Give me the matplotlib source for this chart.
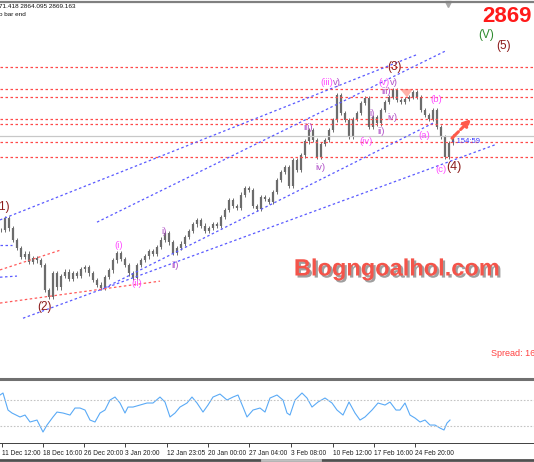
import matplotlib
matplotlib.use("Agg")
import matplotlib.pyplot as plt
import matplotlib.patheffects as pe
from matplotlib.lines import Line2D
import numpy as np

plt.rcParams['font.family'] = ['Liberation Sans', 'DejaVu Sans']

# closing prices, one per bar
closes = [2702, 2723, 2705, 2684, 2670, 2654, 2660, 2645, 2652, 2648,
          2640, 2595, 2583, 2625, 2600, 2620, 2628, 2615, 2625, 2620,
          2632, 2636, 2625, 2613, 2605, 2599, 2618, 2630, 2648, 2661,
          2650, 2640, 2625, 2617, 2640, 2649, 2655, 2665, 2660, 2672,
          2685, 2697, 2680, 2661, 2670, 2678, 2690, 2700, 2712, 2720,
          2710, 2700, 2706, 2712, 2710, 2725, 2738, 2755, 2745, 2741,
          2765, 2777, 2773, 2745, 2740, 2761, 2757, 2752, 2770, 2791,
          2805, 2814, 2780, 2827, 2809, 2835, 2860, 2880, 2862, 2832,
          2855, 2862, 2880, 2898, 2942, 2910, 2898, 2868, 2900, 2910,
          2928, 2937, 2885, 2903, 2892, 2916, 2930, 2939, 2951, 2933,
          2930, 2935, 2939, 2948, 2939, 2916, 2907, 2900, 2916, 2885,
          2868, 2832, 2857, 2869]

levels = [2992.7, 2952.5, 2939.3, 2899.1, 2890.2, 2858.2, 2831.5]
bid = 2869.163

# trend lines: (bar0, bar1), (price0, price1)
blue_lines = [((-0.25, 104.25), (2720, 3015)),
              ((24, 111.5), (2716, 3022)),
              ((24.75, 108.5), (2595, 2894)),
              ((5.5, 124), (2545, 2855)),
              ((-0.25, 2.75), (2675, 2675)),
              ((-0.25, 4), (2618, 2620))]
red_lines = [((-0.25, 14.75), (2631, 2666)),
             ((-0.25, 39.75), (2572, 2611))]

# wave labels: text, bar, price, colour, size, align
DR, MG, PU = '#8b1a1a', '#ff4dff', '#b050c8'
waves = [("(1)", 0.5, 2743, DR, 8.5, 'center'),
         ("(2)", 11, 2565, DR, 8.5, 'center'),
         ("(3)", 98.5, 2992, DR, 8.5, 'center'),
         ("(4)", 113.25, 2814, DR, 9, 'center'),
         ("(5)", 125.75, 3030, DR, 8.5, 'center'),
         ("(V)", 121.25, 3050, '#2e8b2e', 8.5, 'center'),
         ("(i)", 29.5, 2675, MG, 6.8, 'center'),
         ("(ii)", 34, 2606, MG, 6.8, 'center'),
         ("(iii)", 83, 2964, MG, 6.8, 'right'),
         ("(iv)", 91.25, 2859, MG, 6.8, 'center'),
         ("(v)", 97.25, 2965, MG, 6.8, 'right'),
         ("(a)", 105.75, 2871, MG, 6.8, 'center'),
         ("(b)", 108.75, 2935, MG, 6.8, 'center'),
         ("(c)", 110, 2809, MG, 6.8, 'center'),
         ("i)", 40.75, 2700, PU, 6.8, 'center'),
         ("ii)", 43.5, 2638, PU, 6.8, 'center'),
         ("iii)", 76.75, 2885, PU, 6.8, 'center'),
         ("iv)", 79.75, 2814, PU, 6.8, 'center'),
         ("v)", 83, 2964, PU, 6.8, 'left'),
         ("v)", 97.25, 2965, PU, 6.8, 'left'),
         ("i)", 92.75, 2910, PU, 6.8, 'center'),
         ("ii)", 95, 2878, PU, 6.8, 'center'),
         ("iii)", 96.25, 2948, PU, 6.8, 'center'),
         ("iv)", 97.75, 2903, PU, 6.8, 'center')]

# oscillator in the lower window
ind_bars = [-0.25, 0.5, 1.75, 2.75, 4.75, 6, 7.25, 9, 10.5, 11.5, 13, 14, 15.5,
            17.25, 18.5, 19.75, 21, 22.25, 23.5, 24.75, 26, 27.25, 28.5, 29.75,
            31, 31.75, 33, 34.75, 36.5, 38, 39.75, 41, 42.25, 43.5, 44.75, 46.5,
            47.75, 49, 50.5, 51.75, 53, 54.75, 56.5, 58, 59.25, 60.5, 61.5, 63,
            64.75, 66, 67.25, 69, 70.5, 71.5, 72.25, 73.5, 75.25, 76.5, 77.75,
            79.25, 81, 82.75, 84, 85.5, 87, 88.5, 89.75, 91, 92.75, 94.25, 96,
            97.25, 98.75, 99.75, 101, 102.25, 103.5, 104.75, 106, 107.25, 108.5,
            109.75, 110.75, 111.5, 112.25]
ind_vals = [77.7, 80.8, 54.6, 50.0, 43.9, 46.9, 36.2, 39.2, 20.8, 31.5, 43.9, 51.5,
            50.0, 46.9, 57.7, 57.7, 54.6, 39.2, 36.2, 50.0, 54.6, 70.0, 74.6, 65.4,
            50.0, 59.2, 59.2, 62.3, 65.4, 65.4, 74.6, 66.9, 43.9, 50.0, 59.2, 65.4,
            74.6, 65.4, 51.5, 62.3, 74.6, 79.2, 70.0, 74.6, 77.7, 59.2, 43.9, 54.6,
            57.7, 51.5, 73.1, 77.7, 70.0, 50.0, 46.9, 70.0, 80.8, 73.1, 59.2, 66.9,
            73.1, 65.4, 54.6, 46.9, 66.9, 50.0, 39.2, 43.9, 54.6, 65.4, 62.3, 66.9,
            54.6, 54.6, 65.4, 46.9, 42.3, 36.2, 39.2, 31.5, 31.5, 26.9, 23.9, 34.6,
            39.2]
ind_levels = [70, 30]

tick_labels = ["11 Dec 12:00", "18 Dec 16:00", "26 Dec 20:00", "3 Jan 20:00",
               "12 Jan 23:05", "20 Jan 00:00", "27 Jan 04:00", "3 Feb 08:00",
               "10 Feb 12:00", "17 Feb 16:00", "24 Feb 20:00"]
tick_bars = [0.25, 10.5, 20.75, 31, 41.5, 51.75, 62, 72.5, 83, 93.25, 103.5]

W, H = 534, 462
fig = plt.figure(figsize=(W / 100, H / 100), dpi=100)
ax = fig.add_axes([0, 84 / H, 1, 375 / H])
ax2 = fig.add_axes([0, 19 / H, 1, 63 / H])
xlim = (-0.25, 133.25)

# main price window
bars = np.arange(len(closes))
c = np.array(closes, dtype=float)
o = np.r_[c[0], c[:-1]]
ax.vlines(bars, np.minimum(o, c) - 4, np.maximum(o, c) + 4, color='#6c6c6c', lw=0.7)
ax.vlines(bars, np.minimum(o, c), np.maximum(o, c), color='#6c6c6c', lw=1.6)

for lv in levels:
    ax.axhline(lv, color='#ff4a4a', lw=0.9, ls=(0, (2, 2)))
ax.axhline(bid, color='#c8c8c8', lw=0.9)

for (bx, py) in blue_lines:
    ax.plot(bx, py, color='#5a5aff', lw=0.9, ls=(0, (2, 2)))
for (bx, py) in red_lines:
    ax.plot(bx, py, color='#ff5a5a', lw=0.9, ls=(0, (2, 2)))

ax.fill([99.75, 101.5, 103], [2953, 2938, 2953], color='#ff8070', alpha=0.6, lw=0)
ax.annotate('', xy=(118, 2903), xytext=(112.25, 2862),
            arrowprops=dict(arrowstyle='-|>', color='#ff5a4a', lw=2.2,
                            ls=(0, (3, 1)), mutation_scale=10))
ax.text(112.75, 2858.7, "- 154:59", color='#3a3aff', fontsize=5.5, va='center')

for t, bx, py, col, fs, al in waves:
    ax.text(bx, py, t, color=col, fontsize=fs, ha=al, va='center')

ax.plot([111.75], [3104], marker='v', color='#a8a8a8', ms=4, clip_on=False)
ax.set_xlim(*xlim)
ax.set_ylim(2438.6, 3106.1)
ax.axis('off')

# oscillator window
ax2.plot(ind_bars, ind_vals, color='#5aaaf6', lw=0.8)
for lv in ind_levels:
    ax2.axhline(lv, color='#c4c4c4', lw=0.8, ls=(0, (1.5, 1.5)))
ax2.set_xlim(*xlim)
ax2.set_ylim(3.9, 100.8)
ax2.set_yticks([])
ax2.set_xticks(tick_bars, tick_labels)
ax2.tick_params(axis='x', length=3, width=0.7, color='#404040', pad=2,
                labelsize=4.8, labelcolor='#202020')
for lab in ax2.get_xticklabels():
    lab.set_horizontalalignment('left')
for s in ['top', 'left', 'right']:
    ax2.spines[s].set_visible(False)
ax2.spines['bottom'].set_color('#404040')
ax2.spines['bottom'].set_linewidth(0.7)

# frame lines of the terminal window
fig.add_artist(Line2D([0, 1], [1 - 1.5 / H, 1 - 1.5 / H], color='#808080', lw=1.6))
fig.add_artist(Line2D([0, 1], [1 - 378.5 / H, 1 - 378.5 / H], color='#707070', lw=2.2))
fig.add_artist(Line2D([0, 1], [1 - 460 / H, 1 - 460 / H], color='#505050', lw=2))
fig.add_artist(Line2D([262 / W, 320 / W], [1 - 460 / H, 1 - 460 / H], color='#c0c0c0', lw=2))

# texts
fig.text(-1 / W, 1 - 6.5 / H, "71.418 2864.095 2869.163", fontsize=4.6, va='center', color='#101010')
fig.text(-1 / W, 1 - 15 / H, "o bar end", fontsize=4.6, va='center', color='#101010')
fig.text(482 / W, 1 - 16.5 / H, "2869", fontsize=16, fontweight='bold', color='#ff1a1a', va='center')
fig.text(491 / W, 1 - 353 / H, "Spread: 160", fontsize=6.5, color='#ff4040', va='center')
fig.text(397 / W, 1 - 269 / H, "Blogngoalhol.com", fontsize=17, fontweight='bold',
         color='#f4544a', ha='center', va='center',
         path_effects=[pe.withSimplePatchShadow(offset=(1.5, -1.5), shadow_rgbFace='#606060', alpha=0.6)])

fig.savefig('out.png', dpi=100)
